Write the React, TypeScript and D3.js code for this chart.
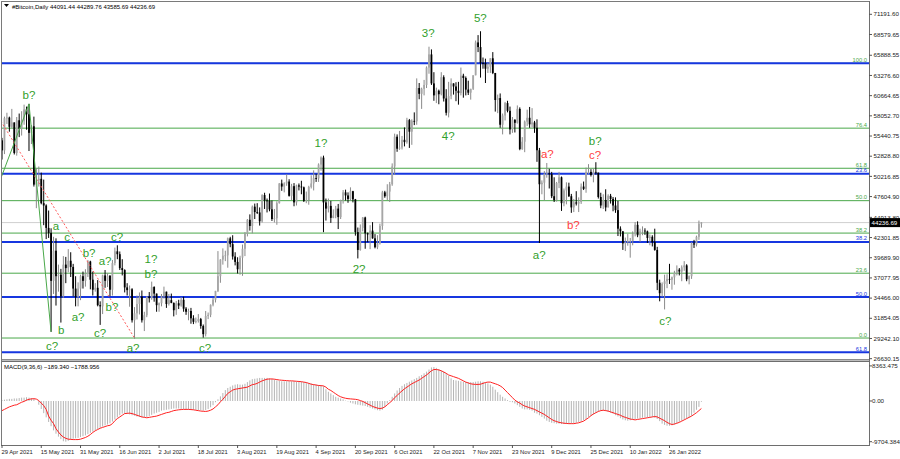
// MT4-style daily candle chart (#Bitcoin) with wave marks, two fib grids
// and a MACD(9,36,6) sub-window. Prices are kept in thousands of USD.

import * as d3 from "d3";

// daily bars: [open, high, low, close] (k USD)
const APR_2021 = [
  [54.88, 55.2, 52.4, 53.58], [53.58, 57.95, 53.1, 57.75],
];
const MAY_2021 = [
  [57.75, 58.45, 57.0, 57.83], [57.83, 57.95, 56.0, 56.63], [56.63, 58.95, 56.5, 57.2], [57.2, 57.2, 53.05, 53.25],
  [53.25, 57.9, 52.9, 57.48], [57.48, 58.35, 55.3, 56.4], [56.4, 58.65, 55.5, 57.35], [57.35, 59.5, 56.9, 58.88],
  [58.88, 59.25, 56.25, 58.25], [58.25, 59.6, 53.5, 55.85], [55.85, 56.85, 54.4, 56.7], [56.7, 57.95, 48.9, 49.15],
  [49.15, 51.3, 46.1, 49.7], [49.7, 51.5, 48.9, 49.9], [49.9, 50.7, 46.6, 46.75], [46.75, 49.8, 43.9, 46.45],
  [46.45, 46.6, 42.1, 43.55], [43.55, 45.8, 42.25, 42.9], [42.9, 43.5, 30.1, 36.7], [36.7, 42.4, 35.0, 40.6],
  [40.6, 42.2, 33.5, 37.3], [37.3, 38.8, 35.3, 37.5], [37.5, 38.25, 31.3, 34.7], [34.7, 39.9, 34.5, 38.8],
  [38.8, 39.8, 36.4, 38.35], [38.35, 40.8, 37.8, 39.3], [39.3, 40.4, 37.2, 38.5], [38.5, 38.9, 34.7, 35.7],
  [35.7, 37.3, 33.4, 34.65], [34.65, 36.5, 33.4, 35.7], [35.7, 37.5, 34.2, 37.3],
];
const JUN_2021 = [
  [37.3, 37.9, 35.7, 36.7], [36.7, 38.2, 35.95, 37.6], [37.6, 39.4, 37.2, 39.2], [39.2, 39.3, 35.6, 36.85],
  [36.85, 37.9, 34.8, 35.55], [35.55, 36.4, 35.3, 35.8], [35.8, 36.8, 33.4, 33.55], [33.55, 34.05, 31.0, 33.4],
  [33.4, 37.5, 32.4, 37.4], [37.4, 38.1, 35.8, 36.7], [36.7, 37.7, 35.9, 37.35], [37.35, 37.45, 34.7, 35.55],
  [35.55, 39.4, 34.8, 39.0], [39.0, 41.0, 38.7, 40.52], [40.52, 41.3, 39.5, 40.15], [40.15, 40.5, 38.1, 38.35],
  [38.35, 39.5, 37.4, 38.1], [38.1, 38.2, 35.2, 35.85], [35.85, 36.4, 34.8, 35.5], [35.5, 36.1, 33.35, 35.6],
  [35.6, 35.75, 31.3, 31.6], [31.6, 33.3, 29.2, 32.5], [32.5, 34.8, 31.7, 33.7], [33.7, 35.2, 32.35, 34.65],
  [34.65, 35.45, 31.3, 31.6], [31.6, 32.7, 30.2, 32.25], [32.25, 34.7, 32.0, 34.65], [34.65, 35.25, 33.9, 34.45],
  [34.45, 36.6, 34.25, 35.9], [35.9, 36.0, 34.0, 35.05],
];
const JUL_2021 = [
  [35.05, 35.05, 32.7, 33.55], [33.55, 33.9, 32.7, 33.8], [33.8, 35.0, 33.4, 34.7], [34.7, 35.95, 34.4, 35.3],
  [35.3, 35.3, 33.2, 33.7], [33.7, 35.0, 33.5, 34.2], [34.2, 35.05, 33.8, 33.85], [33.85, 33.9, 32.1, 32.9],
  [32.9, 34.1, 32.3, 33.8], [33.8, 34.25, 33.05, 33.5], [33.5, 34.6, 33.35, 34.25], [34.25, 34.65, 32.7, 33.1],
  [33.1, 33.3, 32.3, 32.7], [32.7, 33.1, 31.6, 32.8], [32.8, 33.2, 31.15, 31.85], [31.85, 32.25, 31.1, 31.4],
  [31.4, 31.95, 31.2, 31.5], [31.5, 32.4, 31.3, 31.75], [31.75, 31.9, 30.5, 30.85], [30.85, 31.05, 29.35, 29.8],
  [29.8, 32.8, 29.5, 32.15], [32.15, 32.6, 31.75, 32.3], [32.3, 33.65, 32.0, 33.6], [33.6, 34.5, 33.4, 34.25],
  [34.25, 35.4, 33.9, 35.4], [35.4, 40.55, 35.25, 37.3], [37.3, 39.5, 36.45, 39.45], [39.45, 40.9, 38.8, 39.95],
  [39.95, 40.6, 39.25, 40.0], [40.0, 42.3, 38.4, 42.2], [42.2, 42.4, 41.05, 41.45],
];
const AUG_2021 = [
  [41.45, 42.6, 39.45, 39.85], [39.85, 40.4, 38.7, 39.15], [39.15, 39.75, 37.65, 38.2], [38.2, 39.95, 37.5, 39.7],
  [39.7, 41.4, 37.35, 40.85], [40.85, 43.0, 39.9, 42.8], [42.8, 44.7, 42.45, 44.6], [44.6, 45.3, 43.2, 43.8],
  [43.8, 46.45, 42.85, 46.3], [46.3, 46.7, 44.7, 45.6], [45.6, 46.75, 45.35, 45.55], [45.55, 46.2, 43.85, 44.4],
  [44.4, 47.9, 44.25, 47.8], [47.8, 48.1, 46.0, 47.1], [47.1, 47.35, 45.55, 47.05], [47.05, 48.0, 45.7, 45.95],
  [45.95, 47.1, 44.45, 44.7], [44.7, 46.0, 44.25, 44.8], [44.8, 47.0, 43.95, 46.75], [46.75, 49.35, 46.7, 49.3],
  [49.3, 49.8, 48.35, 48.9], [48.9, 49.45, 48.15, 49.3], [49.3, 50.5, 49.0, 49.55], [49.55, 49.85, 47.6, 47.7],
  [47.7, 49.25, 47.15, 48.95], [48.95, 49.35, 46.35, 46.85], [46.85, 49.15, 46.45, 49.05], [49.05, 49.3, 48.4, 48.9],
  [48.9, 49.65, 47.9, 48.8], [48.8, 48.9, 46.9, 47.05], [47.05, 48.25, 46.75, 47.15],
];
const SEP_2021 = [
  [47.15, 49.0, 46.55, 48.85], [48.85, 50.35, 48.65, 49.3], [49.3, 51.0, 48.4, 50.0], [50.0, 50.55, 49.5, 49.95],
  [49.95, 51.9, 49.5, 51.75], [51.75, 52.8, 50.95, 52.65], [52.65, 52.9, 43.0, 46.85], [46.85, 47.35, 44.5, 46.05],
  [46.05, 47.35, 45.55, 46.4], [46.4, 47.05, 44.2, 44.85], [44.85, 45.95, 44.8, 45.15], [45.15, 46.4, 44.8, 46.05],
  [46.05, 46.65, 43.4, 44.95], [44.95, 47.2, 44.7, 47.1], [47.1, 48.45, 46.7, 48.15], [48.15, 48.5, 47.1, 47.75],
  [47.75, 48.15, 46.8, 47.3], [47.3, 48.8, 47.05, 48.3], [48.3, 48.35, 46.85, 47.25], [47.25, 47.3, 42.55, 43.0],
  [43.0, 43.6, 39.6, 40.7], [40.7, 44.0, 40.6, 43.55], [43.55, 44.95, 43.1, 44.9], [44.9, 45.0, 40.85, 42.85],
  [42.85, 42.95, 41.7, 42.7], [42.7, 43.9, 40.8, 43.2], [43.2, 44.3, 42.15, 42.2], [42.2, 42.75, 40.9, 41.05],
  [41.05, 42.6, 40.8, 41.55], [41.55, 44.1, 41.4, 43.8],
];
const OCT_2021 = [
  [43.8, 48.35, 43.3, 48.15], [48.15, 48.35, 47.45, 47.65], [47.65, 49.2, 47.15, 48.25], [48.25, 49.5, 46.9, 49.2],
  [49.2, 51.9, 49.0, 51.5], [51.5, 55.75, 50.4, 55.35], [55.35, 55.65, 53.4, 53.8], [53.8, 56.1, 53.65, 53.95],
  [53.95, 55.45, 53.7, 54.95], [54.95, 56.55, 54.1, 54.65], [54.65, 57.8, 54.45, 57.5], [57.5, 57.65, 53.9, 56.0],
  [56.0, 57.6, 54.3, 57.4], [57.4, 58.5, 56.85, 57.35], [57.35, 62.9, 56.9, 61.65], [61.65, 62.3, 60.2, 60.9],
  [60.9, 61.7, 58.95, 61.55], [61.55, 62.7, 60.7, 62.05], [62.05, 64.45, 61.65, 64.3], [64.3, 67.0, 63.5, 66.0],
  [66.0, 66.65, 62.05, 62.25], [62.25, 63.7, 60.0, 60.7], [60.7, 61.7, 59.7, 61.3], [61.3, 61.45, 59.55, 60.85],
  [60.85, 63.7, 60.7, 63.05], [63.05, 63.3, 59.9, 60.3], [60.3, 61.5, 58.1, 58.45], [58.45, 62.45, 57.85, 60.6],
  [60.6, 62.9, 60.2, 62.25], [62.25, 62.25, 60.8, 61.85], [61.85, 62.4, 59.95, 61.3],
];
const NOV_2021 = [
  [61.3, 62.45, 59.5, 61.0], [61.0, 64.3, 60.7, 63.25], [63.25, 63.5, 60.4, 62.95], [62.95, 63.15, 60.7, 61.45],
  [61.45, 62.6, 60.75, 61.05], [61.05, 61.55, 60.15, 61.55], [61.55, 63.3, 61.4, 63.3], [63.3, 67.8, 63.3, 67.55],
  [67.55, 68.5, 66.3, 66.95], [66.95, 69.0, 63.0, 64.9], [64.9, 65.6, 64.15, 64.85], [64.85, 65.45, 62.3, 64.15],
  [64.15, 64.9, 63.6, 64.4], [64.4, 65.5, 63.6, 65.5], [65.5, 66.3, 63.45, 63.6], [63.6, 63.6, 58.6, 60.1],
  [60.1, 60.8, 58.4, 60.35], [60.35, 60.95, 56.5, 56.9], [56.9, 58.35, 55.65, 58.1], [58.1, 59.85, 57.45, 59.7],
  [59.7, 60.0, 58.5, 58.7], [58.7, 59.25, 55.65, 56.3], [56.3, 57.9, 55.85, 57.55], [57.55, 57.6, 55.9, 57.15],
  [57.15, 59.4, 57.05, 58.95], [58.95, 59.15, 53.6, 53.75], [53.75, 55.3, 53.65, 54.7], [54.7, 57.45, 53.35, 57.3],
  [57.3, 58.85, 56.75, 57.8], [57.8, 59.2, 56.5, 56.95],
];
const DEC_2021 = [
  [56.95, 59.05, 56.55, 57.2], [57.2, 57.4, 55.85, 56.5], [56.5, 57.6, 52.1, 53.6], [53.6, 53.9, 41.6, 49.2],
  [49.2, 49.7, 47.9, 49.4], [49.4, 50.9, 47.1, 50.55], [50.55, 51.95, 50.05, 50.6], [50.6, 51.2, 48.65, 50.5],
  [50.5, 50.8, 47.4, 47.65], [47.65, 50.1, 46.9, 47.15], [47.15, 49.5, 46.95, 49.35], [49.35, 50.8, 48.7, 50.1],
  [50.1, 50.2, 45.75, 46.75], [46.75, 48.65, 46.35, 48.4], [48.4, 49.45, 46.6, 48.9], [48.9, 49.4, 47.55, 47.65],
  [47.65, 47.95, 45.5, 46.2], [46.2, 47.3, 45.6, 46.85], [46.85, 48.3, 46.45, 46.7], [46.7, 47.5, 45.6, 46.9],
  [46.9, 49.3, 46.65, 48.9], [48.9, 49.55, 48.45, 48.6], [48.6, 51.35, 48.1, 50.8], [50.8, 51.8, 50.45, 50.8],
  [50.8, 51.15, 50.2, 50.4], [50.4, 51.25, 49.45, 50.8], [50.8, 52.05, 50.45, 50.7], [50.7, 50.7, 47.35, 47.55],
  [47.55, 48.1, 46.1, 46.45], [46.45, 47.9, 46.0, 47.15], [47.15, 48.55, 45.7, 46.2],
];
const JAN_2022 = [
  [46.2, 47.9, 46.2, 47.7], [47.7, 47.95, 46.7, 47.3], [47.3, 47.55, 45.7, 46.45], [46.45, 47.5, 45.5, 45.85],
  [45.85, 47.05, 42.5, 43.45], [43.45, 43.75, 42.45, 43.1], [43.1, 43.15, 40.7, 41.55], [41.55, 42.3, 40.55, 41.7],
  [41.7, 42.8, 41.25, 41.85], [41.85, 42.25, 39.7, 41.85], [41.85, 43.1, 41.3, 42.75], [42.75, 44.3, 42.45, 43.95],
  [43.95, 44.4, 42.35, 42.6], [42.6, 43.45, 41.75, 43.1], [43.1, 43.75, 42.6, 43.2], [43.2, 43.5, 42.65, 43.1],
  [43.1, 43.2, 41.6, 42.25], [42.25, 42.7, 41.3, 42.4], [42.4, 42.6, 41.15, 41.7], [41.7, 43.45, 40.6, 40.7],
  [40.7, 41.1, 35.5, 36.45], [36.45, 36.85, 34.05, 35.1], [35.1, 36.5, 34.65, 36.3], [36.3, 37.5, 33.0, 36.65],
  [36.65, 37.55, 35.75, 36.95], [36.95, 38.9, 36.3, 36.85], [36.85, 37.25, 35.55, 37.15], [37.15, 38.0, 36.2, 37.7],
  [37.7, 38.7, 37.4, 38.15], [38.15, 38.35, 37.4, 37.9], [37.9, 38.7, 36.65, 38.45],
];
const FEB_2022 = [
  [38.45, 39.25, 38.0, 38.7], [38.7, 38.85, 36.65, 36.9], [36.9, 37.4, 36.25, 37.3], [37.3, 41.7, 36.95, 41.55],
  [41.55, 42.0, 40.95, 41.4], [41.4, 42.55, 41.15, 42.4], [42.4, 44.5, 42.0, 44.09144],
  [44.09144, 44.28976, 43.58569, 44.23669],
];
const FIRST_DAY = new Date(2021, 3, 29);

// MACD(9,36,6) main (histogram) and signal, k USD, one per bar
const MACD_MAIN = [
  0.2, 0.3, 0.4, 0.5, 0.5, 0.6, 0.6, 0.7, 0.8, 0.8, 0.9, 0.8, 0.7, 0.5, 0.0, -0.9, -1.9, -2.9, -3.9, -5.0,
  -6.0, -7.0, -7.8, -8.5, -9.1, -9.6, -9.7, -9.5, -9.2, -9.0, -8.9, -8.8, -8.6, -8.4, -8.2, -7.9, -7.6, -7.3, -7.0, -6.7,
  -6.4, -6.1, -5.8, -5.6, -5.3, -4.9, -4.4, -3.9, -3.4, -3.0, -3.0, -3.0, -3.2, -3.4, -3.5, -3.7, -3.8, -3.9, -3.9, -3.8,
  -3.6, -3.3, -3.0, -2.8, -2.6, -2.3, -2.2, -2.1, -2.0, -1.9, -1.8, -1.8, -1.8, -1.9, -1.9, -2.0, -2.0, -2.0, -2.1, -2.1,
  -2.2, -2.2, -2.3, -2.2, -1.9, -1.5, -1.0, -0.3, 0.4, 1.1, 1.9, 2.6, 3.1, 3.4, 3.7, 3.9, 4.0, 3.9, 3.9, 4.1,
  4.5, 4.9, 5.2, 5.3, 5.4, 5.5, 5.5, 5.5, 5.5, 5.4, 5.3, 5.1, 4.9, 4.8, 4.7, 4.7, 4.7, 4.7, 4.7, 4.7,
  4.6, 4.6, 4.6, 4.5, 4.4, 4.3, 4.2, 4.0, 3.9, 3.8, 3.7, 3.5, 2.8, 2.2, 1.8, 1.4, 1.0, 0.8, 0.6, 0.4,
  0.1, -0.1, -0.4, -0.6, -0.8, -0.9, -1.0, -1.1, -1.2, -1.4, -1.6, -1.8, -2.0, -2.2, -2.3, -2.1, -1.4, -0.6, 0.2, 1.0,
  1.8, 2.5, 3.1, 3.6, 4.0, 4.3, 4.6, 4.9, 5.2, 5.5, 5.9, 6.2, 6.6, 7.0, 7.5, 8.0, 8.1, 7.9, 7.6, 7.2,
  7.0, 6.6, 6.0, 5.4, 5.0, 4.9, 4.8, 4.7, 4.6, 4.5, 4.5, 4.5, 4.5, 4.6, 4.7, 4.7, 4.6, 4.4, 4.2, 3.9,
  3.4, 2.7, 2.1, 1.5, 1.0, 0.6, 0.2, -0.2, -0.3, -0.6, -1.0, -1.4, -1.8, -2.0, -2.0, -2.1, -2.3, -2.8, -3.0, -3.4,
  -3.8, -4.2, -4.7, -5.0, -5.2, -5.3, -5.4, -5.4, -5.5, -5.5, -5.5, -5.4, -5.4, -5.3, -5.2, -5.0, -4.9, -4.6, -4.3, -3.8,
  -3.5, -3.2, -2.8, -2.5, -2.3, -2.3, -2.4, -2.6, -2.8, -3.0, -3.4, -3.7, -4.1, -4.4, -4.6, -4.7, -4.6, -4.4, -4.3, -4.2,
  -4.1, -4.0, -3.9, -3.9, -3.8, -3.8, -4.0, -4.3, -4.8, -5.4, -5.7, -5.9, -5.9, -5.8, -5.6, -5.3, -5.0, -4.7, -4.4, -4.2,
  -3.9, -3.5, -2.8, -2.1, -1.4, -0.18934,
];
const MACD_SIGNAL = [
  -2.3, -2.0, -1.7, -1.4, -1.2, -1.0, -0.9, -0.6, -0.3, -0.1, 0.2, 0.4, 0.5, 0.55, 0.45, 0.1, -0.5, -1.1, -2.0, -3.6,
  -4.6, -5.4, -6.6, -7.4, -8.1, -8.6, -8.9, -9.1, -9.15, -9.2, -9.2, -9.2, -9.1, -8.9, -8.7, -8.4, -8.0, -7.5, -7.1, -6.8,
  -6.5, -6.3, -6.1, -5.9, -5.8, -5.4, -4.7, -4.2, -3.8, -3.4, -3.0, -2.95, -2.9, -3.0, -3.2, -3.4, -3.6, -3.8, -3.9, -4.0,
  -3.9, -3.8, -3.7, -3.6, -3.4, -3.2, -3.0, -2.8, -2.7, -2.5, -2.3, -2.2, -2.1, -2.05, -2.0, -2.0, -2.0, -2.05, -2.1, -2.2,
  -2.3, -2.4, -2.45, -2.5, -2.4, -2.2, -1.9, -1.4, -0.9, -0.2, 0.4, 1.1, 1.8, 2.2, 2.6, 2.8, 2.9, 3.0, 3.1, 3.2,
  3.3, 3.6, 3.9, 4.0, 4.2, 4.5, 4.8, 5.0, 5.2, 5.25, 5.25, 5.2, 5.1, 5.0, 4.95, 4.9, 4.85, 4.8, 4.8, 4.75,
  4.7, 4.65, 4.6, 4.5, 4.4, 4.2, 4.0, 3.9, 3.8, 3.7, 3.65, 3.6, 3.3, 2.8, 2.5, 2.1, 1.7, 1.3, 1.0, 0.8,
  0.65, 0.55, 0.5, 0.45, 0.4, 0.3, 0.1, -0.1, -0.4, -0.7, -1.0, -1.3, -1.5, -1.7, -1.8, -1.7, -1.4, -0.9, -0.4, 0.1,
  0.8, 1.3, 1.9, 2.4, 2.9, 3.3, 3.7, 4.1, 4.4, 4.7, 5.0, 5.4, 5.8, 6.2, 6.7, 7.2, 7.5, 7.5, 7.4, 7.2,
  6.9, 6.6, 6.2, 6.0, 5.8, 5.6, 5.4, 5.1, 4.8, 4.5, 4.3, 4.1, 4.0, 3.95, 3.95, 4.0, 4.2, 4.4, 4.5, 4.5,
  4.3, 4.1, 3.9, 3.6, 3.2, 2.6, 2.0, 1.4, 0.8, 0.2, -0.2, -0.5, -0.9, -1.2, -1.4, -1.6, -1.8, -2.0, -2.3, -2.6,
  -2.9, -3.2, -3.6, -4.0, -4.4, -4.7, -4.9, -5.1, -5.2, -5.3, -5.35, -5.4, -5.4, -5.4, -5.3, -5.2, -5.0, -4.8, -4.4, -4.0,
  -3.5, -3.1, -2.8, -2.5, -2.3, -2.2, -2.3, -2.4, -2.6, -2.8, -3.0, -3.2, -3.4, -3.7, -3.9, -4.1, -4.3, -4.4, -4.5, -4.4,
  -4.3, -4.2, -4.1, -4.0, -3.9, -3.8, -3.7, -3.8, -4.1, -4.4, -4.7, -5.1, -5.4, -5.6, -5.5, -5.3, -5.1, -4.8, -4.5, -4.2,
  -3.9, -3.6, -3.2, -2.8, -2.3, -1.788956,
];

// right-hand price scale labels as printed by the terminal
const PRICE_LABELS = [
  "71191.60", "68579.65", "65888.55", "63276.60", "60664.65", "58052.70", "55440.75", "52828.80", "50216.85",
  "47604.90", "44913.80", "42301.85", "39689.90", "37077.95", "34466.00", "31854.05", "29242.10", "26630.15",
];
const MACD_LABELS = ["8363.475", "0.00", "-9704.384"];

// fibonacci grids (k USD)
const GREEN_FIB_LOW = 29.3, GREEN_FIB_HIGH = 64.85;
const GREEN_FIB_LEVELS = [0, 23.6, 38.2, 50, 61.8, 76.4, 100];
const BLUE_FIB_ZERO = 64.85, BLUE_FIB_FULL = 4.35;
const BLUE_FIB_LEVELS = [0, 23.6, 38.2, 50, 61.8];

// hand-drawn wave path and trend line: [bar index, price]
const WAVE_PATH = [[-4, 47.0], [11, 59.6], [20, 30.1]];
const TREND_LINE = [[-15, 64.85], [54, 29.3]];

// wave marks: [text, bar index, price, red?]
const WAVE_MARKS: [string, number, number, boolean][] = [
  ["b?", 11.0, 60.75, false], ["a", 22.0, 43.8, false], ["c", 26.5, 42.37, false], ["b?", 35.5, 40.3, false],
  ["c?", 46.9, 42.37, false], ["a?", 42.0, 39.27, false], ["1?", 60.7, 39.53, false], ["b?", 60.7, 37.59, false],
  ["b?", 44.8, 33.32, false], ["a?", 31.0, 32.02, false], ["b", 24.1, 30.34, false], ["c?", 40.0, 29.95, false],
  ["c?", 20.4, 28.27, false], ["a?", 53.4, 28.01, false], ["c?", 82.8, 28.01, false], ["1?", 130.0, 54.54, false],
  ["2?", 145.5, 38.23, false], ["3?", 173.7, 68.77, false], ["4?", 181.8, 55.44, false], ["5?", 194.9, 70.71, false],
  ["a?", 222.2, 53.11, true], ["a?", 218.9, 40.04, false], ["b?", 232.8, 43.93, true], ["b?", 241.7, 54.8, false],
  ["c?", 241.7, 52.99, true], ["c?", 270.3, 31.5, false],
];

const FONT = "'Liberation Sans', Arial, sans-serif";
const GREEN = "#4aa84a", BLUE = "#1636e0", MARK_GREEN = "#31a02b", MARK_RED = "#ff4040";

export default function App() {
  const bars = [APR_2021, MAY_2021, JUN_2021, JUL_2021, AUG_2021, SEP_2021, OCT_2021, NOV_2021,
    DEC_2021, JAN_2022, FEB_2022].flat();
  const last = bars[bars.length - 1];

  const right = 869, mainBottom = 359, subTop = 362, subBottom = 445;
  const x = d3.scaleLinear().domain([0, 353.3]).range([2, right]);
  const y = d3.scaleLinear().domain([26.63015, 71.1916]).range([358.66, 14.3]);
  const ym = d3.scaleLinear().domain([-9.704384, 8.363475]).range([441.7, 365.9]);

  const fmt2 = d3.format(".2f"), fmt3 = d3.format(".3f");
  const dayFmt = d3.timeFormat("%-d %b %Y");
  const dateTicks = d3.range(0, bars.length, 16);

  const signal = d3.line<number>().x((_, i) => x(i)).y((v) => ym(v))(MACD_SIGNAL) ?? "";
  const pathLine = d3.line<number[]>().x((d) => x(d[0])).y((d) => y(d[1]));

  const greenY = (lv: number) => y(GREEN_FIB_LOW + (lv / 100) * (GREEN_FIB_HIGH - GREEN_FIB_LOW));
  const blueY = (lv: number) => y(BLUE_FIB_ZERO + (lv / 100) * (BLUE_FIB_FULL - BLUE_FIB_ZERO));

  return (
    <svg width={900} height={459} style={{ position: "absolute", left: 0, top: 0, background: "#fff" }}
         fontFamily={FONT}>
      <defs>
        <clipPath id="main"><rect x={1} y={1} width={right - 1} height={mainBottom - 1} /></clipPath>
        <clipPath id="sub"><rect x={1} y={subTop} width={right - 1} height={subBottom - subTop} /></clipPath>
      </defs>

      {/* header */}
      <path d="M4,4 L9,4 L6.5,7 Z" fill="#000" />
      <text x={12} y={8.5} fontSize={6} fill="#000">
        {`#Bitcoin,Daily  ${last.map((v) => fmt2(v * 1000)).join(" ")}`}
      </text>

      <g clipPath="url(#main)">
        {/* current price line */}
        <line x1={1} x2={right} y1={y(last[3])} y2={y(last[3])} stroke="#cfcfcf" />
        {/* fib grids */}
        {GREEN_FIB_LEVELS.map((lv) => (
          <line key={`g${lv}`} x1={1} x2={right} y1={greenY(lv)} y2={greenY(lv)} stroke={GREEN} strokeWidth={1} />
        ))}
        {BLUE_FIB_LEVELS.map((lv) => (
          <line key={`b${lv}`} x1={1} x2={right} y1={blueY(lv)} y2={blueY(lv)} stroke={BLUE} strokeWidth={2} />
        ))}
        {GREEN_FIB_LEVELS.map((lv) => (
          <text key={`gt${lv}`} x={right - 2} y={greenY(lv) - 1.5} fontSize={5.8} fill={GREEN} textAnchor="end">
            {lv.toFixed(1)}
          </text>
        ))}
        {BLUE_FIB_LEVELS.filter((lv) => lv > 0).map((lv) => (
          <text key={`bt${lv}`} x={right - 2} y={blueY(lv) - 1.5} fontSize={5.8} fill={BLUE} textAnchor="end">
            {lv.toFixed(1)}
          </text>
        ))}

        {/* candles */}
        {bars.map(([o, h, l, c], i) => {
          const up = c >= o;
          const cx = x(i);
          const top = y(Math.max(o, c)), bot = y(Math.min(o, c));
          return (
            <g key={i}>
              <line x1={cx} x2={cx} y1={y(h)} y2={y(l)} stroke={up ? "#8a8a8a" : "#000"} strokeWidth={1} />
              <rect x={cx - 0.9} y={top} width={1.8} height={Math.max(0.8, bot - top)} fill={up ? "#a6a6a6" : "#000"} />
            </g>
          );
        })}

        {/* drawn objects */}
        <path d={pathLine(TREND_LINE) ?? ""} fill="none" stroke="#ff5a5a" strokeWidth={1} strokeDasharray="2,2" />
        <path d={pathLine(WAVE_PATH) ?? ""} fill="none" stroke={GREEN} strokeWidth={1} />
        {WAVE_MARKS.map(([t, i, p, red], k) => (
          <text key={k} x={x(i)} y={y(p)} fontSize={11.5} textAnchor="middle" dominantBaseline="central"
                fill={red ? MARK_RED : MARK_GREEN}>{t}</text>
        ))}
      </g>

      {/* macd window */}
      <g clipPath="url(#sub)">
        {MACD_MAIN.map((v, i) => (
          <line key={i} x1={x(i)} x2={x(i)} y1={ym(0)} y2={ym(v)} stroke="#b4b4b4" strokeWidth={1} />
        ))}
        <path d={signal} fill="none" stroke="#ff2020" strokeWidth={1} />
      </g>
      <text x={4} y={369} fontSize={6} fill="#000">
        {`MACD(9,36,6) ${fmt3(MACD_MAIN[MACD_MAIN.length - 1] * 1000)} ${fmt3(MACD_SIGNAL[MACD_SIGNAL.length - 1] * 1000)}`}
      </text>

      {/* frames */}
      <rect x={1} y={mainBottom} width={right - 1} height={subTop - mainBottom} fill="#bdbdbd" />
      <line x1={1} x2={right} y1={mainBottom + 0.5} y2={mainBottom + 0.5} stroke="#8c8c8c" />
      <line x1={1} x2={right} y1={subTop - 0.5} y2={subTop - 0.5} stroke="#6e6e6e" />
      <line x1={1} x2={right} y1={1.5} y2={1.5} stroke="#7a7a7a" />
      <line x1={1.5} x2={1.5} y1={1} y2={subBottom} stroke="#7a7a7a" />
      <line x1={right + 0.5} x2={right + 0.5} y1={1} y2={subBottom} stroke="#6e6e6e" />
      <line x1={1} x2={right + 1} y1={subBottom + 0.5} y2={subBottom + 0.5} stroke="#6e6e6e" />

      {/* price axis */}
      {PRICE_LABELS.map((s) => {
        const py = y(+s / 1000);
        return (
          <g key={s}>
            <line x1={right} x2={right + 3} y1={py} y2={py} stroke="#555" />
            <text x={right + 4.5} y={py} dy="0.35em" fontSize={6.2} fill="#222">{s}</text>
          </g>
        );
      })}
      <rect x={right + 1} y={y(last[3]) - 4.5} width={31} height={9} fill="#000" />
      <text x={right + 2.5} y={y(last[3])} dy="0.35em" fontSize={6.2} fill="#fff">{fmt2(last[3] * 1000)}</text>

      {/* macd axis */}
      {MACD_LABELS.map((s) => {
        const py = ym(+s / 1000);
        return (
          <g key={s}>
            <line x1={right} x2={right + 3} y1={py} y2={py} stroke="#555" />
            <text x={right + 3} y={py} dy="0.35em" fontSize={6.2} fill="#222">{s}</text>
          </g>
        );
      })}

      {/* time axis */}
      {dateTicks.map((i) => (
        <g key={i}>
          <line x1={x(i)} x2={x(i)} y1={subBottom} y2={subBottom + 3} stroke="#555" />
          <text x={x(i) - 0.5} y={454} fontSize={5.8} fill="#222">{dayFmt(d3.timeDay.offset(FIRST_DAY, i))}</text>
        </g>
      ))}
    </svg>
  );
}
